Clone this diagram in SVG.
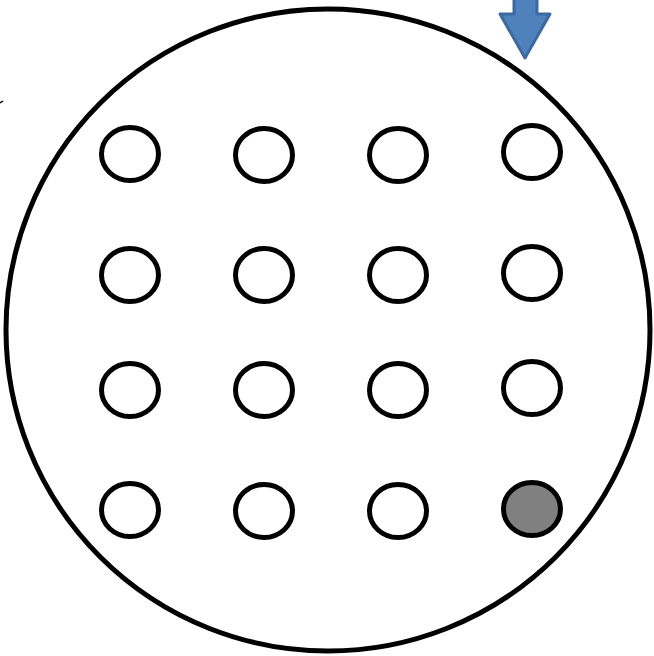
<svg xmlns="http://www.w3.org/2000/svg" width="654" height="656" viewBox="0 0 654 656">
<style>
.hole{fill:#ffffff;stroke:#000000;stroke-width:5}
.filled{fill:#808080;stroke:#000000;stroke-width:5}
</style>
<rect width="654" height="656" fill="#ffffff"/>
<g id="wafer"><ellipse cx="328" cy="330" rx="322" ry="321" fill="none" stroke="#000" stroke-width="5"/></g>
<g id="mark"><line x1="0" y1="103" x2="3" y2="101" stroke="#000" stroke-width="1.5"/></g>
<g id="holes">
<g id="h11"><ellipse class="hole" cx="130" cy="154" rx="28.5" ry="26.5"/></g>
<g id="h12"><ellipse class="hole" cx="264" cy="155" rx="28.5" ry="26.5"/></g>
<g id="h13"><ellipse class="hole" cx="398" cy="155" rx="28.5" ry="26.5"/></g>
<g id="h14"><ellipse class="hole" cx="532" cy="152" rx="28.5" ry="26.5"/></g>
<g id="h21"><ellipse class="hole" cx="130" cy="275" rx="28.5" ry="26.5"/></g>
<g id="h22"><ellipse class="hole" cx="264" cy="275" rx="28.5" ry="26.5"/></g>
<g id="h23"><ellipse class="hole" cx="398" cy="275" rx="28.5" ry="26.5"/></g>
<g id="h24"><ellipse class="hole" cx="532" cy="273" rx="28.5" ry="26.5"/></g>
<g id="h31"><ellipse class="hole" cx="130" cy="390" rx="28.5" ry="26.5"/></g>
<g id="h32"><ellipse class="hole" cx="264" cy="390" rx="28.5" ry="26.5"/></g>
<g id="h33"><ellipse class="hole" cx="398" cy="390" rx="28.5" ry="26.5"/></g>
<g id="h34"><ellipse class="hole" cx="532" cy="388" rx="28.5" ry="26.5"/></g>
<g id="h41"><ellipse class="hole" cx="130" cy="510" rx="28.5" ry="26.5"/></g>
<g id="h42"><ellipse class="hole" cx="264" cy="511" rx="28.5" ry="26.5"/></g>
<g id="h43"><ellipse class="hole" cx="398" cy="511" rx="28.5" ry="26.5"/></g>
<g id="h44"><ellipse class="filled" cx="532" cy="509" rx="28.5" ry="26.5"/></g>
</g>
<g id="arrow"><polygon points="514,-5 537,-5 537,14 550,14 525,58 500,14 514,14" fill="#4f81bd" stroke="#3d6a9e" stroke-width="3" stroke-linejoin="round"/></g>
</svg>
